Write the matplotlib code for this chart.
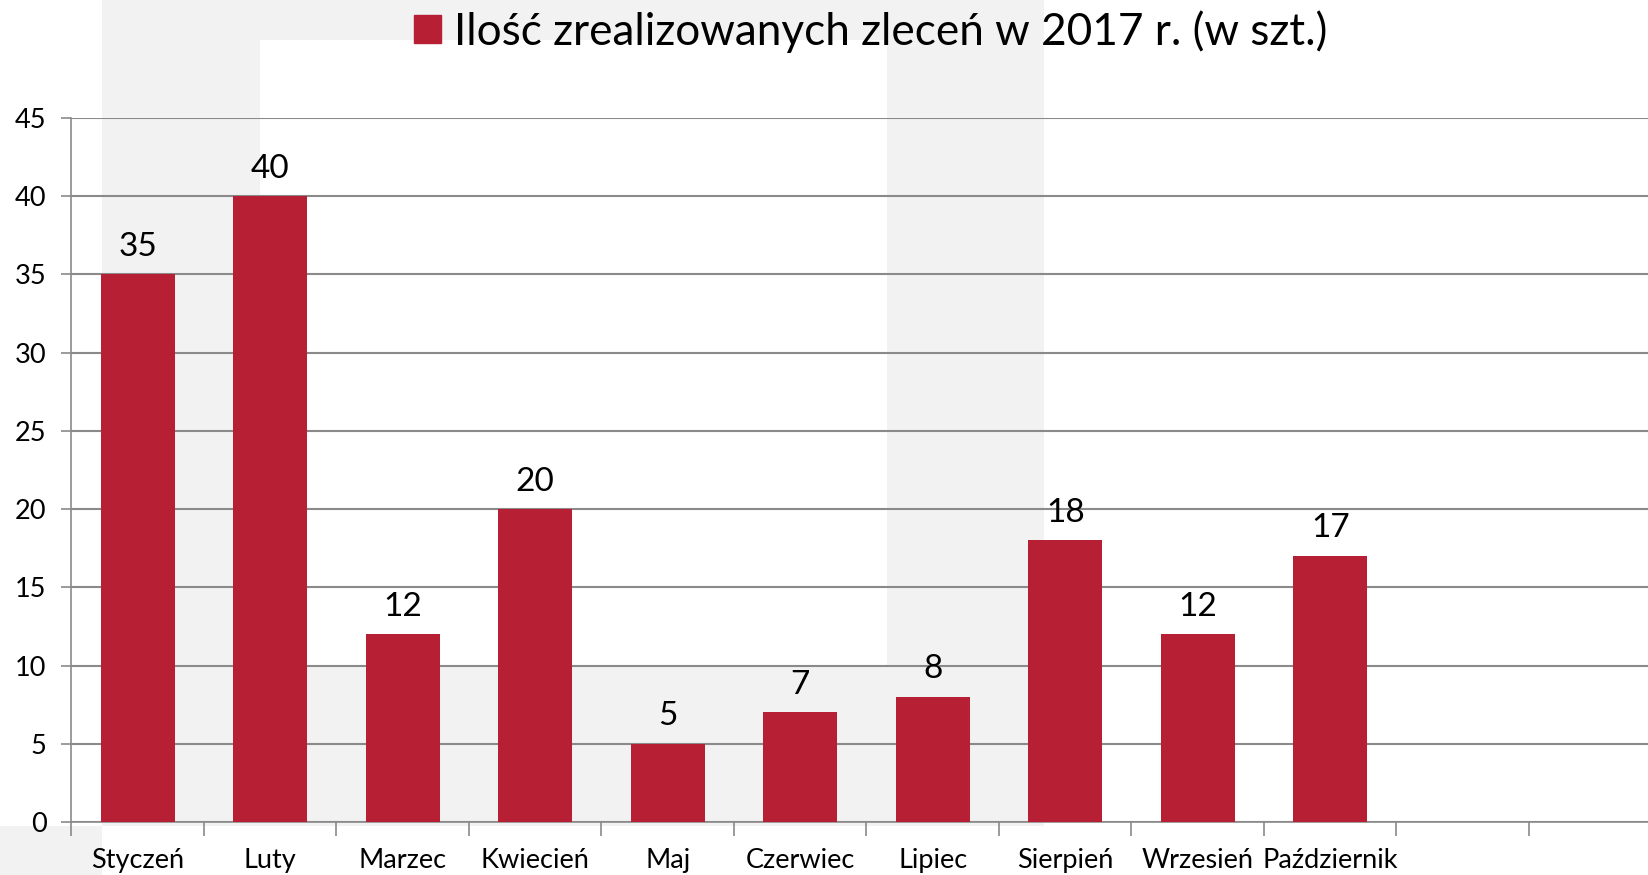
import matplotlib
matplotlib.use("Agg")
import matplotlib.pyplot as plt
from matplotlib.patches import Rectangle, Patch

months = ["Styczeń", "Luty", "Marzec", "Kwiecień", "Maj", "Czerwiec",
          "Lipiec", "Sierpień", "Wrzesień", "Październik", "", ""]
orders = [35, 40, 12, 20, 5, 7, 8, 18, 12, 17]
legend_label = "Ilość zrealizowanych zleceń w 2017 r. (w szt.)"
y_ticks = [0, 5, 10, 15, 20, 25, 30, 35, 40, 45]

bar_color = "#B71F34"
grid_color = "#8A8A8A"
wm_color = "#F2F2F2"

plt.rcParams["font.family"] = ["Lato", "DejaVu Sans"]

W, H = 1649, 875
fig = plt.figure(figsize=(W / 100, H / 100), dpi=100)

# light grey background shape, pixel coords with y going down
bg = fig.add_axes([0, 0, 1, 1], zorder=-1)
bg.set_xlim(0, W)
bg.set_ylim(H, 0)
bg.axis("off")
bg.add_patch(Rectangle((102, 0), 1044 - 102, 826, color=wm_color, lw=0))
bg.add_patch(Rectangle((260, 40), 887 - 260, 665.5 - 40, color="white", lw=0))
bg.add_patch(Rectangle((0, 826), 102, H - 826, color=wm_color, lw=0))

# plot area runs a little past the right edge of the figure
ax = fig.add_axes([71.5 / W, 1 - 822 / H, 1590 / W, (822 - 117.8) / H])
ax.patch.set_alpha(0)

x = list(range(len(orders)))
ax.bar(x, orders, width=0.56, color=bar_color, zorder=3)
for xi, v in zip(x, orders):
    ax.annotate(str(v), (xi, v), xytext=(0, 9), textcoords="offset points",
                ha="center", va="bottom", fontsize=24, color="black")

ax.set_xlim(-0.5, len(months) - 0.5)
ax.set_ylim(0, 45)
ax.set_yticks(y_ticks)
ax.tick_params(axis="y", labelsize=19.5, length=7, width=1.2, color=grid_color, pad=11)

ax.set_xticks(range(len(months)))
ax.set_xticklabels(months, fontsize=19.5)
ax.set_xticks([i - 0.5 for i in range(len(months) + 1)], minor=True)
ax.tick_params(axis="x", which="major", length=0, pad=19)
ax.tick_params(axis="x", which="minor", length=10, width=1.2, color=grid_color)

ax.yaxis.grid(True, color=grid_color, lw=1.5, zorder=1)
ax.set_axisbelow(True)
for s in ["top", "right"]:
    ax.spines[s].set_visible(False)
for s in ["left", "bottom"]:
    ax.spines[s].set_color(grid_color)
    ax.spines[s].set_linewidth(1.2)

handle = Patch(color=bar_color)
fig.legend([handle], [legend_label], loc="upper center", bbox_to_anchor=(0.528, 1.034),
           frameon=False, fontsize=31.8, handlelength=0.6, handleheight=0.6,
           handletextpad=0.3)

fig.savefig("out.png", dpi=100)
